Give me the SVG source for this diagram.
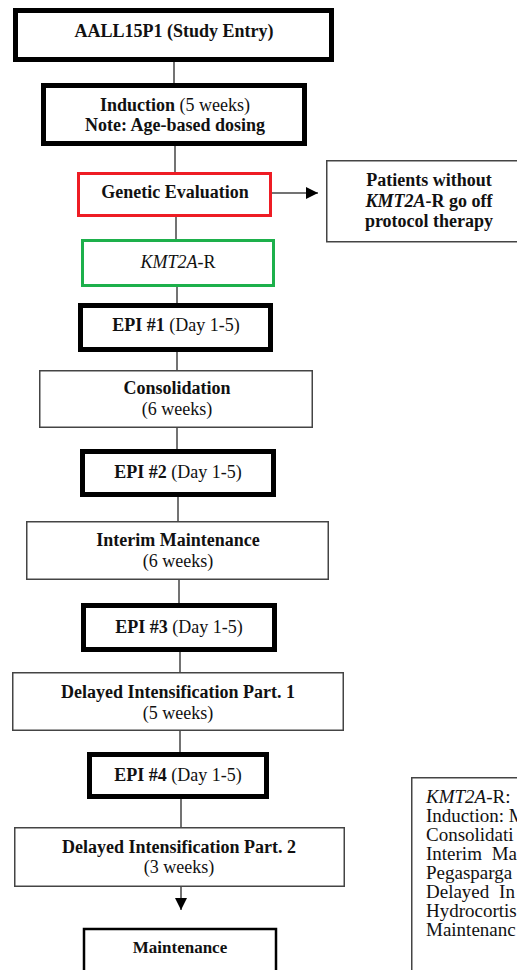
<svg xmlns="http://www.w3.org/2000/svg" width="517" height="970" viewBox="0 0 517 970">
<style>
text{font-family:"Liberation Serif","Times New Roman",serif;font-size:18px;fill:#111;text-anchor:middle}
.b{font-weight:bold}
.i{font-style:italic}
.thick{fill:#fff;stroke:#000;stroke-width:5}
.thin{fill:#fff;stroke:#444;stroke-width:1.5}
.red{fill:#fff;stroke:#ee1c24;stroke-width:3}
.green{fill:#fff;stroke:#1db04b;stroke-width:3}
.conn{stroke:#444;stroke-width:1.5;fill:none}
.note{text-anchor:start;font-size:19px}
</style>
<defs>
<marker id="ah" viewBox="0 0 10 10" refX="10" refY="5" markerWidth="12" markerHeight="12" markerUnits="userSpaceOnUse" orient="auto">
<path d="M0,0 L10,5 L0,10 Z" fill="#000"/>
</marker>
</defs>
<rect width="517" height="970" fill="#fff"/>
<g id="connectors">
<line class="conn" x1="174" y1="62" x2="174" y2="83"/>
<line class="conn" x1="175" y1="146" x2="175" y2="172"/>
<line class="conn" x1="176" y1="217" x2="176" y2="239"/>
<line class="conn" x1="177" y1="287" x2="177" y2="303"/>
<line class="conn" x1="177" y1="352" x2="177" y2="370"/>
<line class="conn" x1="177" y1="428" x2="177" y2="449"/>
<line class="conn" x1="178" y1="497" x2="178" y2="521"/>
<line class="conn" x1="179" y1="580" x2="179" y2="603"/>
<line class="conn" x1="180" y1="652" x2="180" y2="672"/>
<line class="conn" x1="180" y1="731" x2="180" y2="752"/>
<line class="conn" x1="181" y1="799" x2="181" y2="827"/>
<line class="conn" x1="181" y1="887" x2="181" y2="910" stroke="#000" marker-end="url(#ah)"/>
<line class="conn" x1="272" y1="193" x2="318" y2="193" marker-end="url(#ah)"/>
</g>
<g id="study-entry">
<rect class="thick" x="15.5" y="10.5" width="316" height="49"/>
<text x="174" y="37" class="b">AALL15P1 (Study Entry)</text>
</g>
<g id="induction">
<rect class="thick" x="43.5" y="85.5" width="261" height="58"/>
<text x="175" y="111"><tspan class="b">Induction</tspan> (5 weeks)</text>
<text x="175" y="131" class="b">Note: Age-based dosing</text>
</g>
<g id="genetic-evaluation">
<rect class="red" x="78.5" y="173.5" width="192" height="42"/>
<text x="175" y="198" class="b">Genetic Evaluation</text>
</g>
<g id="off-protocol">
<rect class="thin" x="326.75" y="160.75" width="210" height="81"/>
<text x="429" y="186" class="b">Patients without</text>
<text x="429" y="207" class="b"><tspan class="i">KMT2A</tspan>-R go off</text>
<text x="429" y="227" class="b">protocol therapy</text>
</g>
<g id="kmt2a-r">
<rect class="green" x="82.5" y="240.5" width="191" height="45"/>
<text x="178" y="268"><tspan class="i">KMT2A</tspan>-R</text>
</g>
<g id="epi1">
<rect class="thick" x="80.5" y="305.5" width="190" height="44"/>
<text x="176" y="331"><tspan class="b">EPI #1</tspan> (Day 1-5)</text>
</g>
<g id="consolidation">
<rect class="thin" x="39.75" y="370.75" width="272.5" height="56.5"/>
<text x="177" y="394" class="b">Consolidation</text>
<text x="177" y="415">(6 weeks)</text>
</g>
<g id="epi2">
<rect class="thick" x="82.5" y="451.5" width="191" height="43"/>
<text x="178" y="478"><tspan class="b">EPI #2</tspan> (Day 1-5)</text>
</g>
<g id="interim-maintenance">
<rect class="thin" x="26.75" y="521.75" width="301.5" height="57.5"/>
<text x="178" y="546" class="b">Interim Maintenance</text>
<text x="178" y="567">(6 weeks)</text>
</g>
<g id="epi3">
<rect class="thick" x="83.5" y="605.5" width="191" height="44"/>
<text x="179" y="633"><tspan class="b">EPI #3</tspan> (Day 1-5)</text>
</g>
<g id="delayed-1">
<rect class="thin" x="12.75" y="672.75" width="330.5" height="57.5"/>
<text x="178" y="698" class="b">Delayed Intensification Part. 1</text>
<text x="178" y="719">(5 weeks)</text>
</g>
<g id="epi4">
<rect class="thick" x="89.5" y="754.5" width="177" height="42"/>
<text x="178" y="781"><tspan class="b">EPI #4</tspan> (Day 1-5)</text>
</g>
<g id="delayed-2">
<rect class="thin" x="14.75" y="827.75" width="329.5" height="58.5"/>
<text x="179" y="853" class="b">Delayed Intensification Part. 2</text>
<text x="179" y="873">(3 weeks)</text>
</g>
<g id="maintenance">
<rect x="84" y="929" width="192" height="60" fill="#fff" stroke="#000" stroke-width="2.5"/>
<text x="180" y="953" class="b" style="font-size:17px">Maintenance</text>
</g>
<g id="legend">
<rect class="thin" x="411.75" y="777.75" width="130" height="230"/>
<text class="note" x="426" y="803"><tspan class="i">KMT2A</tspan>-R: </text>
<text class="note" x="426" y="822">Induction: M</text>
<text class="note" x="426" y="841">Consolidati</text>
<text class="note" x="426" y="860" style="word-spacing:5px">Interim Ma</text>
<text class="note" x="426" y="879">Pegasparga</text>
<text class="note" x="426" y="898" style="word-spacing:5px">Delayed In</text>
<text class="note" x="426" y="917">Hydrocortis</text>
<text class="note" x="426" y="936">Maintenanc</text>
</g>
</svg>
